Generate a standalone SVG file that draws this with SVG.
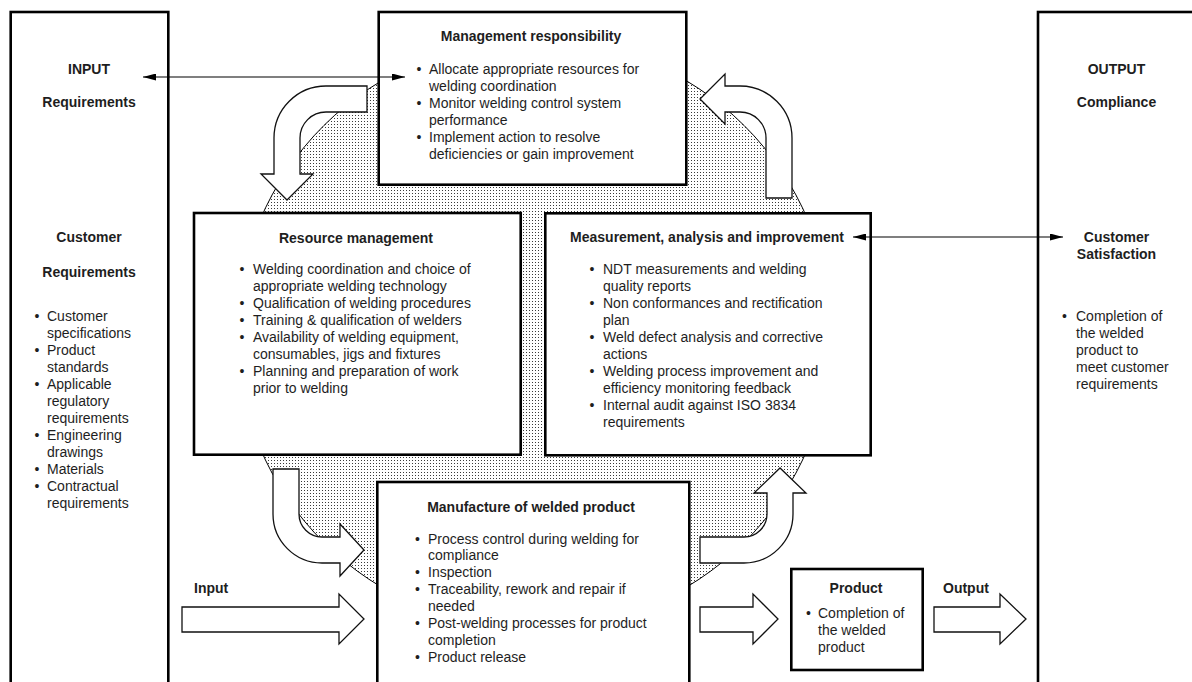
<svg xmlns="http://www.w3.org/2000/svg" width="1192" height="682" viewBox="0 0 1192 682">
<style>
text{font-family:"Liberation Sans",Arial,Helvetica,sans-serif;font-size:14px;fill:#1e1e1e}
.b{font-weight:bold}
.c{text-anchor:middle}
.box{fill:#fff;stroke:#000;stroke-width:2.6}
.arr{fill:#fff;stroke:#111;stroke-width:1.3;stroke-linejoin:miter}
.ln{stroke:#000;stroke-width:1.2;fill:none}
</style>
<defs>
<pattern id="dots" x="0" y="0" width="3" height="3" patternUnits="userSpaceOnUse">
<rect x="1" y="1" width="1" height="1" fill="#3a3a3a"/>
</pattern>
<marker id="ah" viewBox="0 0 13 7" refX="13" refY="3.5" markerWidth="13" markerHeight="7" markerUnits="userSpaceOnUse" orient="auto-start-reverse">
<path d="M0,0 L13,3.5 L0,7 z" fill="#000"/>
</marker>
</defs>
<rect width="1192" height="682" fill="#fff"/>

<g id="cycle-background">
<ellipse cx="534" cy="334" rx="297" ry="295" fill="url(#dots)" stroke="#000" stroke-width="1"/>
</g>

<g id="input-panel">
<rect class="box" x="10.7" y="12" width="157.6" height="700"/>
<text class="b c" x="89" y="74">INPUT</text>
<text class="b c" x="89" y="107">Requirements</text>
<text class="b c" x="89" y="242">Customer</text>
<text class="b c" x="89" y="277">Requirements</text>
<text x="34.5" y="321">•</text><text x="47" y="321">Customer</text>
<text x="47" y="338">specifications</text>
<text x="34.5" y="355">•</text><text x="47" y="355">Product</text>
<text x="47" y="372">standards</text>
<text x="34.5" y="389">•</text><text x="47" y="389">Applicable</text>
<text x="47" y="406">regulatory</text>
<text x="47" y="423">requirements</text>
<text x="34.5" y="440">•</text><text x="47" y="440">Engineering</text>
<text x="47" y="457">drawings</text>
<text x="34.5" y="474">•</text><text x="47" y="474">Materials</text>
<text x="34.5" y="491">•</text><text x="47" y="491">Contractual</text>
<text x="47" y="508">requirements</text>
</g>

<g id="output-panel">
<rect class="box" x="1038" y="12" width="200" height="700"/>
<text class="b c" x="1116.5" y="74">OUTPUT</text>
<text class="b c" x="1116.5" y="107">Compliance</text>
<text class="b c" x="1116.5" y="242">Customer</text>
<text class="b c" x="1116.5" y="259">Satisfaction</text>
<text x="1062" y="321">•</text><text x="1076" y="321">Completion of</text>
<text x="1076" y="338">the welded</text>
<text x="1076" y="355">product to</text>
<text x="1076" y="372">meet customer</text>
<text x="1076" y="389">requirements</text>
</g>

<g id="management-responsibility">
<rect class="box" x="378.7" y="12" width="307.6" height="172.7"/>
<text class="b c" x="531" y="41">Management responsibility</text>
<text x="416.5" y="74">•</text><text x="429" y="74">Allocate appropriate resources for</text>
<text x="429" y="91">welding coordination</text>
<text x="416.5" y="108">•</text><text x="429" y="108">Monitor welding control system</text>
<text x="429" y="125">performance</text>
<text x="416.5" y="142">•</text><text x="429" y="142">Implement action to resolve</text>
<text x="429" y="159">deficiencies or gain improvement</text>
</g>

<g id="resource-management">
<rect class="box" x="194" y="213" width="326.7" height="241.7"/>
<text class="b c" x="356" y="243">Resource management</text>
<text x="239.5" y="274">•</text><text x="253" y="274">Welding coordination and choice of</text>
<text x="253" y="291">appropriate welding technology</text>
<text x="239.5" y="308">•</text><text x="253" y="308">Qualification of welding procedures</text>
<text x="239.5" y="325">•</text><text x="253" y="325">Training &amp; qualification of welders</text>
<text x="239.5" y="342">•</text><text x="253" y="342">Availability of welding equipment,</text>
<text x="253" y="359">consumables, jigs and fixtures</text>
<text x="239.5" y="376">•</text><text x="253" y="376">Planning and preparation of work</text>
<text x="253" y="393">prior to welding</text>
</g>

<g id="measurement-analysis-improvement">
<rect class="box" x="545.3" y="213.3" width="325.4" height="242"/>
<text class="b c" x="707" y="242">Measurement, analysis and improvement</text>
<text x="589.5" y="274">•</text><text x="603" y="274">NDT measurements and welding</text>
<text x="603" y="291">quality reports</text>
<text x="589.5" y="308">•</text><text x="603" y="308">Non conformances and rectification</text>
<text x="603" y="325">plan</text>
<text x="589.5" y="342">•</text><text x="603" y="342">Weld defect analysis and corrective</text>
<text x="603" y="359">actions</text>
<text x="589.5" y="376">•</text><text x="603" y="376">Welding process improvement and</text>
<text x="603" y="393">efficiency monitoring feedback</text>
<text x="589.5" y="410">•</text><text x="603" y="410">Internal audit against ISO 3834</text>
<text x="603" y="427">requirements</text>
</g>

<g id="manufacture-of-welded-product">
<rect class="box" x="377.3" y="482" width="312" height="240"/>
<text class="b c" x="531" y="512">Manufacture of welded product</text>
<text x="415" y="543.5">•</text><text x="428" y="543.5">Process control during welding for</text>
<text x="428" y="560.4">compliance</text>
<text x="415" y="577.3">•</text><text x="428" y="577.3">Inspection</text>
<text x="415" y="594.2">•</text><text x="428" y="594.2">Traceability, rework and repair if</text>
<text x="428" y="611.1">needed</text>
<text x="415" y="628">•</text><text x="428" y="628">Post-welding processes for product</text>
<text x="428" y="644.9">completion</text>
<text x="415" y="661.8">•</text><text x="428" y="661.8">Product release</text>
</g>

<g id="product">
<rect class="box" x="791.3" y="569" width="131.4" height="101"/>
<text class="b c" x="856" y="593">Product</text>
<text x="806" y="617.5">•</text><text x="818" y="617.5">Completion of</text>
<text x="818" y="634.5">the welded</text>
<text x="818" y="651.5">product</text>
</g>

<g id="connectors">
<path class="arr" d="M 367 86 L 326 86 A 52 52 0 0 0 274 138 L 274 174 L 261 174 L 287 200 L 313 174 L 300 174 L 300 138 A 26 26 0 0 1 326 112 L 367 112 Z"/>
<path class="arr" d="M 766 198 L 766 138 A 26 26 0 0 0 740 112 L 725 112 L 725 124 L 700 99 L 725 74 L 725 86 L 740 86 A 52 52 0 0 1 792 138 L 792 198 Z"/>
<path class="arr" d="M 273 469 L 299 469 L 299 514 A 23 23 0 0 0 322 537 L 340 537 L 340 524 L 364 550 L 340 576 L 340 563 L 322 563 A 49 49 0 0 1 273 514 Z"/>
<path class="arr" d="M 700 537 L 744 537 A 23 23 0 0 0 767 514 L 767 493 L 754 493 L 780 468 L 806 493 L 793 493 L 793 514 A 49 49 0 0 1 744 563 L 700 563 Z"/>
<path class="arr" d="M 182 607 L 339 607 L 339 594 L 364 619 L 339 644 L 339 632 L 182 632 Z"/>
<path class="arr" d="M 700 607 L 753 607 L 753 594 L 778 619 L 753 644 L 753 632 L 700 632 Z"/>
<path class="arr" d="M 934 607 L 1000 607 L 1000 594 L 1026 619 L 1000 644 L 1000 632 L 934 632 Z"/>
<line class="ln" x1="143" y1="77" x2="405" y2="77" marker-start="url(#ah)" marker-end="url(#ah)"/>
<line class="ln" x1="853" y1="237" x2="1063" y2="237" marker-start="url(#ah)" marker-end="url(#ah)"/>
<text class="b" x="194" y="593">Input</text>
<text class="b" x="943" y="593">Output</text>
</g>
</svg>
